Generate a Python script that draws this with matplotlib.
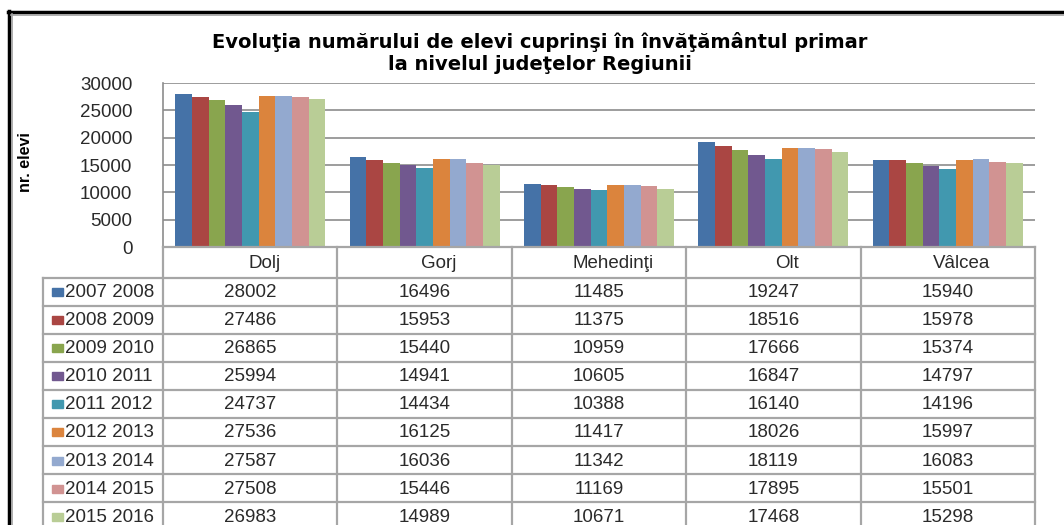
import numpy as np
import matplotlib
matplotlib.use("Agg")
import matplotlib.pyplot as plt

judete = ["Dolj", "Gorj", "Mehedinţi", "Olt", "Vâlcea"]
ani = ["2007 2008", "2008 2009", "2009 2010", "2010 2011", "2011 2012",
       "2012 2013", "2013 2014", "2014 2015", "2015 2016"]
elevi = [
    [28002, 16496, 11485, 19247, 15940],
    [27486, 15953, 11375, 18516, 15978],
    [26865, 15440, 10959, 17666, 15374],
    [25994, 14941, 10605, 16847, 14797],
    [24737, 14434, 10388, 16140, 14196],
    [27536, 16125, 11417, 18026, 15997],
    [27587, 16036, 11342, 18119, 16083],
    [27508, 15446, 11169, 17895, 15501],
    [26983, 14989, 10671, 17468, 15298],
]
culori = ["#4572A7", "#AA4643", "#89A54E", "#71588F", "#4198AF",
          "#DB843D", "#93A9CF", "#D19392", "#B9CD96"]

plt.rcParams['font.family'] = ['Liberation Sans', 'DejaVu Sans']
fs = 13.5
txt_col = "#2a2a2a"

W, H = 1064, 525
fig = plt.figure(figsize=(W / 100, H / 100), dpi=100)

# zona graficului (pixeli)
px_l, px_r, px_t, px_b = 163, 1035, 83, 247
ax = fig.add_axes([px_l / W, 1 - px_b / H, (px_r - px_l) / W, (px_b - px_t) / H])

n = len(ani)
lat = 0.86 / n
x = np.arange(len(judete))
for i in range(n):
    ax.bar(x - 0.43 + lat * (i + 0.5), elevi[i], width=lat, color=culori[i],
           edgecolor="none", zorder=3)

ax.set_xlim(-0.5, len(judete) - 0.5)
ax.set_ylim(0, 30000)
ax.set_yticks(range(0, 30001, 5000))
ax.set_xticks([])
ax.tick_params(axis="y", length=0, pad=22, labelsize=fs, labelcolor=txt_col)
ax.grid(axis="y", color="#8c8c8c", linewidth=1.2, zorder=0)
for s in ["top", "right", "bottom"]:
    ax.spines[s].set_visible(False)
ax.spines["left"].set_color("#8c8c8c")
ax.spines["left"].set_linewidth(1.2)

# strat pentru tabel, titlu si chenar (coordonate in pixeli)
ov = fig.add_axes([0, 0, 1, 1], zorder=5)
ov.set_xlim(0, W)
ov.set_ylim(H, 0)
ov.axis("off")
ov.patch.set_alpha(0)

gri = "#a6a6a6"
col_x = np.linspace(px_l, px_r, len(judete) + 1)
tab_l = 43
rand_h = 28.05
rand_top = 277.7

# linii orizontale
ov.plot([px_l, px_r], [px_b, px_b], color=gri, lw=1.6)
for k in range(n + 1):
    yy = rand_top + k * rand_h
    ov.plot([tab_l, px_r], [yy, yy], color=gri, lw=1.6)
# linii verticale
ov.plot([tab_l, tab_l], [rand_top, H], color=gri, lw=1.6)
for cx in col_x:
    ov.plot([cx, cx], [px_b, H], color=gri, lw=1.6)

# antet
for j, nume in enumerate(judete):
    ov.text((col_x[j] + col_x[j + 1]) / 2 + 14, (px_b + rand_top) / 2 + 1, nume,
            ha="center", va="center", fontsize=fs, color=txt_col)

# randuri
for i in range(n):
    yc = rand_top + (i + 0.5) * rand_h + 1
    ov.add_patch(plt.Rectangle((52, yc - 4.5), 11, 8, color=culori[i]))
    ov.text(65, yc, ani[i], ha="left", va="center", fontsize=fs, color=txt_col)
    for j in range(len(judete)):
        ov.text((col_x[j] + col_x[j + 1]) / 2, yc, str(elevi[i][j]),
                ha="center", va="center", fontsize=fs, color=txt_col)

# titlu
ov.text(540, 42, "Evoluţia numărului de elevi cuprinşi în învăţământul primar",
        ha="center", va="center", fontsize=14, fontweight="bold",
        family=["DejaVu Sans"])
ov.text(540, 64, "la nivelul judeţelor Regiunii",
        ha="center", va="center", fontsize=14, fontweight="bold",
        family=["DejaVu Sans"])

# eticheta axei y
ov.text(26, 162, "nr. elevi", rotation=90, ha="center", va="center",
        fontsize=11.5, fontweight="bold",
        family=["Liberation Sans Narrow", "Liberation Sans", "DejaVu Sans"])

# chenar
ov.plot([8.5, 8.5], [11, H], color="black", lw=2.5)
ov.plot([8, W], [12, 12], color="black", lw=2.5)
ov.plot([11.5, 11.5], [14, H], color="#a0a0a0", lw=1.2)
ov.plot([11, W], [14.5, 14.5], color="#a0a0a0", lw=1.2)

fig.savefig("out.png", dpi=100)
